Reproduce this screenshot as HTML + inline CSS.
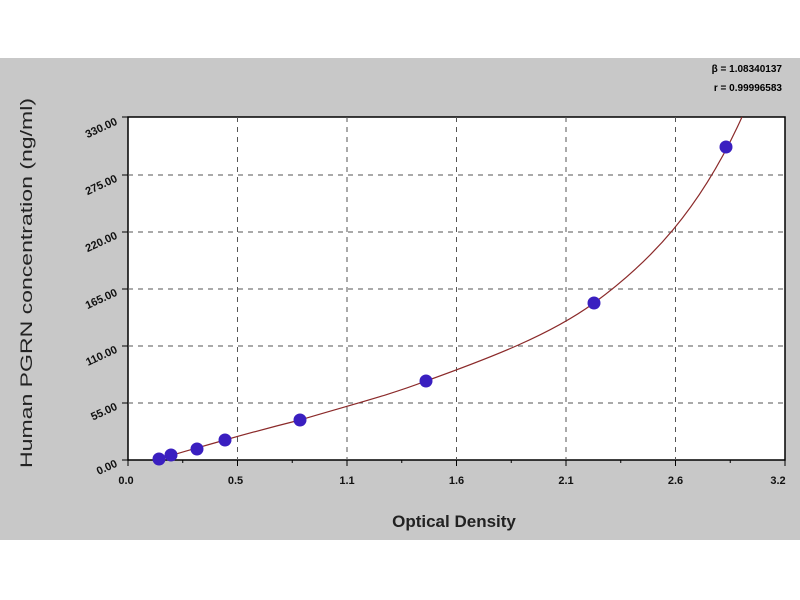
<!DOCTYPE html>
<html><head><style>
html,body{margin:0;padding:0;background:#fff;}
svg{display:block;font-family:"Liberation Sans",sans-serif;}
</style></head><body>
<svg width="800" height="600" xmlns="http://www.w3.org/2000/svg">
<rect x="0" y="0" width="800" height="600" fill="#fff"/>
<rect x="0" y="58" width="800" height="482" fill="#c8c8c8"/>
<rect x="128" y="117" width="657" height="343" fill="#fff" stroke="#000" stroke-width="1.5"/>
<g stroke="#555" stroke-width="1" stroke-dasharray="5,5">
<line x1="237.5" y1="117" x2="237.5" y2="460"/>
<line x1="347" y1="117" x2="347" y2="460"/>
<line x1="456.5" y1="117" x2="456.5" y2="460"/>
<line x1="566" y1="117" x2="566" y2="460"/>
<line x1="675.5" y1="117" x2="675.5" y2="460"/>
<line x1="128" y1="403" x2="785" y2="403"/>
<line x1="128" y1="346" x2="785" y2="346"/>
<line x1="128" y1="289" x2="785" y2="289"/>
<line x1="128" y1="232" x2="785" y2="232"/>
<line x1="128" y1="175" x2="785" y2="175"/>
</g>
<g stroke="#000" stroke-width="1">
<line x1="128" y1="460" x2="128" y2="466"/><line x1="237.5" y1="460" x2="237.5" y2="466"/>
<line x1="347" y1="460" x2="347" y2="466"/><line x1="456.5" y1="460" x2="456.5" y2="466"/>
<line x1="566" y1="460" x2="566" y2="466"/><line x1="675.5" y1="460" x2="675.5" y2="466"/>
<line x1="785" y1="460" x2="785" y2="466"/>
<line x1="182.75" y1="460" x2="182.75" y2="463"/><line x1="292.25" y1="460" x2="292.25" y2="463"/>
<line x1="401.75" y1="460" x2="401.75" y2="463"/><line x1="511.25" y1="460" x2="511.25" y2="463"/>
<line x1="620.75" y1="460" x2="620.75" y2="463"/><line x1="730.25" y1="460" x2="730.25" y2="463"/>
<line x1="122" y1="460" x2="128" y2="460"/><line x1="122" y1="403" x2="128" y2="403"/>
<line x1="122" y1="346" x2="128" y2="346"/><line x1="122" y1="289" x2="128" y2="289"/>
<line x1="122" y1="232" x2="128" y2="232"/><line x1="122" y1="175" x2="128" y2="175"/>
<line x1="122" y1="117" x2="128" y2="117"/>
</g>
<path d="M155,461 C170,455 190,450 225,440 C260,430 280,425 300,420 C350,405 390,395 426,381 C490,358 550,335 594,303 C650,262 700,210 742,117" fill="none" stroke="#8b2a2a" stroke-width="1.2"/>
<g fill="#3a1fc0">
<circle cx="159" cy="459" r="6.5"/><circle cx="171" cy="455" r="6.5"/><circle cx="197" cy="449" r="6.5"/>
<circle cx="225" cy="440" r="6.5"/><circle cx="300" cy="420" r="6.5"/><circle cx="426" cy="381" r="6.5"/>
<circle cx="594" cy="303" r="6.5"/><circle cx="726" cy="147" r="6.5"/>
</g>
<g font-size="11" fill="#111" text-anchor="middle" font-weight="bold">
<text x="126" y="484">0.0</text><text x="235.5" y="484">0.5</text><text x="347" y="484">1.1</text>
<text x="456.5" y="484">1.6</text><text x="566" y="484">2.1</text><text x="675.5" y="484">2.6</text>
<text x="778" y="484">3.2</text>
</g>
<g font-size="11" fill="#111" text-anchor="end" font-weight="bold">
<text transform="translate(118,466) rotate(-25)">0.00</text>
<text transform="translate(118,409) rotate(-25)">55.00</text>
<text transform="translate(118,352) rotate(-25)">110.00</text>
<text transform="translate(118,295) rotate(-25)">165.00</text>
<text transform="translate(118,238) rotate(-25)">220.00</text>
<text transform="translate(118,181) rotate(-25)">275.00</text>
<text transform="translate(118,124) rotate(-25)">330.00</text>
</g>
<text x="454" y="527" font-size="17" font-weight="bold" text-anchor="middle" fill="#222">Optical Density</text>
<text transform="translate(32,283) rotate(-90)" font-size="17" text-anchor="middle" fill="#222" textLength="370" lengthAdjust="spacingAndGlyphs">Human PGRN  concentration (ng/ml)</text>
<text x="782" y="72" font-size="10" text-anchor="end" font-weight="bold">β = 1.08340137</text>
<text x="782" y="91" font-size="10" text-anchor="end" font-weight="bold">r = 0.99996583</text>
</svg>
</body></html>
